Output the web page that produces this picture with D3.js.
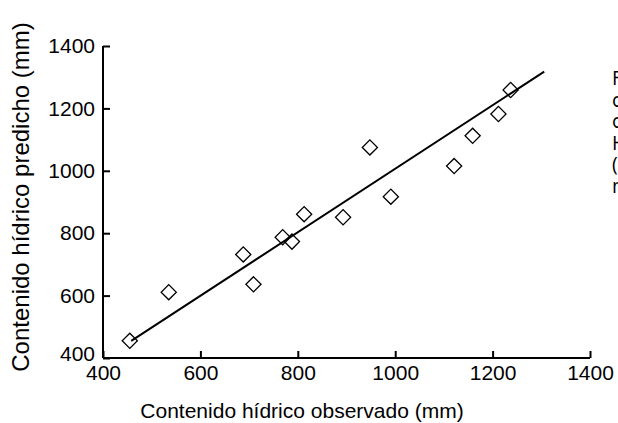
<!DOCTYPE html>
<html>
<head>
<meta charset="utf-8">
<script src="https://cdn.jsdelivr.net/npm/d3@7"></script>
<style>
  body { margin: 0; background: #fff; }
  svg { display: block; font-family: "Liberation Sans", Arial, sans-serif; }
</style>
</head>
<body>
<div id="svg-container"></div>
<script>
// data
const observed = [455, 535, 688, 709, 769, 788, 813, 893, 948, 991, 1121, 1159, 1212, 1237];
const predicted = [455, 611, 732, 636, 787, 773, 861, 851, 1075, 917, 1015, 1112, 1182, 1259];
const fitX = [458, 1306];
const fitY = [455, 1318];
const ticks = [400, 600, 800, 1000, 1200, 1400];
const sideText = ["Figura", "contenido", "contenido", "Hídrico", "(mm)", "medido"];

const width = 618, height = 423;
const margin = { top: 46, right: 28, bottom: 65, left: 103 };

const svg = d3.select("#svg-container").append("svg")
  .attr("width", width).attr("height", height);

const xScale = d3.scaleLinear().domain([400, 1400]).range([margin.left, width - margin.right]);
const yScale = d3.scaleLinear().domain([400, 1400]).range([height - margin.bottom, margin.top]);

// axes
const fmt = d3.format("d");
const xAxis = d3.axisBottom(xScale).tickValues(ticks).tickFormat(fmt).tickSize(-7).tickPadding(7);
const yAxis = d3.axisLeft(yScale).tickValues(ticks).tickFormat(fmt).tickSize(-7).tickPadding(8);

const gx = svg.append("g")
  .attr("transform", `translate(0,${yScale(400)})`)
  .call(xAxis);
const gy = svg.append("g")
  .attr("transform", `translate(${xScale(400)},0)`)
  .call(yAxis);

[gx, gy].forEach((g) => {
  g.select(".domain").attr("stroke", "#000").attr("stroke-width", 2);
  g.selectAll(".tick line").attr("stroke", "#000").attr("stroke-width", 2);
  g.selectAll(".tick text").attr("fill", "#000").attr("font-size", 21)
    .attr("font-family", "Liberation Sans, Arial, sans-serif");
});
gx.select(".domain").attr("d", `M${xScale(400)},0H${xScale(1400)}`);
gy.select(".domain").attr("d", `M0,${yScale(400)}V${yScale(1400)}`);
gy.selectAll(".tick text").filter((d) => d === 400).attr("dy", "0.1em");

// axis titles
svg.append("text")
  .attr("x", 302)
  .attr("y", 418)
  .attr("text-anchor", "middle")
  .attr("font-size", 21)
  .text("Contenido hídrico observado (mm)");

svg.append("text")
  .attr("transform", `translate(29,197) rotate(-90)`)
  .attr("text-anchor", "middle")
  .attr("font-size", 24)
  .text("Contenido hídrico predicho (mm)");

// fit line
svg.append("path")
  .datum(d3.zip(fitX, fitY))
  .attr("d", d3.line().x((d) => xScale(d[0])).y((d) => yScale(d[1])))
  .attr("fill", "none")
  .attr("stroke", "#000")
  .attr("stroke-width", 2);

// points
const diamond = d3.symbol().type(d3.symbolSquare).size(115);
svg.append("g")
  .selectAll("path")
  .data(d3.zip(observed, predicted))
  .join("path")
  .attr("d", diamond)
  .attr("transform", (d) => `translate(${xScale(d[0])},${yScale(d[1])}) rotate(45)`)
  .attr("fill", "none")
  .attr("stroke", "#000")
  .attr("stroke-width", 1.3);

// side caption, cut off by the right edge
svg.append("g")
  .selectAll("text")
  .data(sideText)
  .join("text")
  .attr("x", 612)
  .attr("y", (d, i) => 85 + i * 21.5)
  .attr("font-family", "Open Sans, sans-serif")
  .attr("font-size", 19.5)
  .text((d) => d);
</script>
</body>
</html>
